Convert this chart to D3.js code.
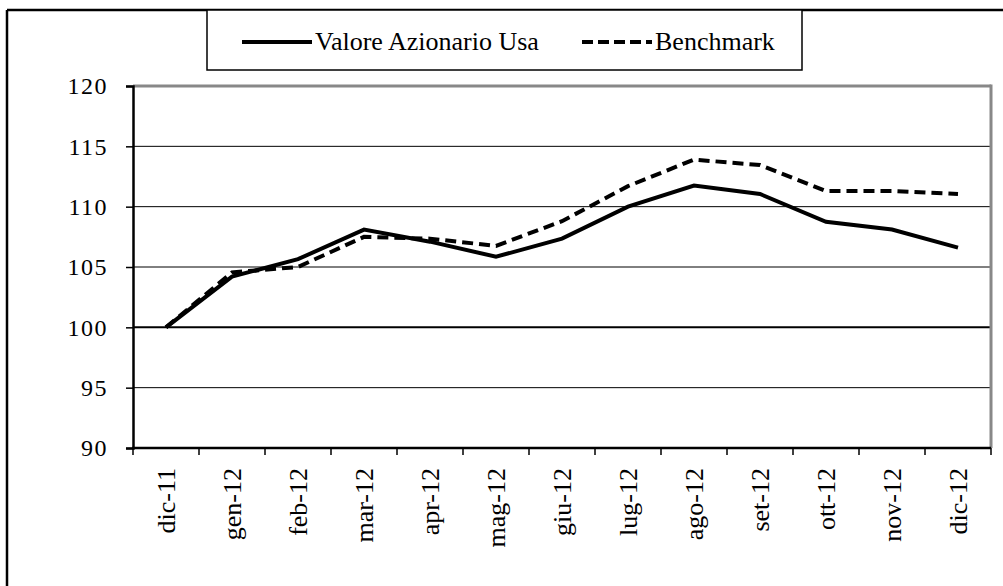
<!DOCTYPE html>
<html>
<head>
<meta charset="utf-8">
<script src="https://cdn.jsdelivr.net/npm/d3@7"></script>
<style>
  body { margin: 0; background: #fff; }
</style>
</head>
<body>
<div id="chart"></div>
<script>
// chart data
var months = ["dic-11", "gen-12", "feb-12", "mar-12", "apr-12", "mag-12", "giu-12",
              "lug-12", "ago-12", "set-12", "ott-12", "nov-12", "dic-12"];
var valoreUsa = [100, 104.2, 105.65, 108.1, 107.1, 105.85, 107.35, 110.0, 111.75, 111.05, 108.75, 108.1, 106.6];
var benchmark = [100, 104.55, 105.0, 107.5, 107.35, 106.75, 108.8, 111.7, 113.9, 113.45, 111.3, 111.3, 111.05];
var yTicks = [90, 95, 100, 105, 110, 115, 120];
var seriesNames = ["Valore Azionario Usa", "Benchmark"];

var width = 1003, height = 586;
var plot = {left: 133, right: 991, top: 86, bottom: 448};
var serif = "Liberation Serif";

var svg = d3.select("#chart")
  .append("svg")
    .attr("width", width)
    .attr("height", height)
    .style("font-family", serif);

// outer frame (top and left edges visible)
svg.append("line").attr("x1", 7).attr("x2", width).attr("y1", 10).attr("y2", 10)
  .attr("stroke", "#000").attr("stroke-width", 2.5);
svg.append("line").attr("x1", 7).attr("x2", 7).attr("y1", 10).attr("y2", height)
  .attr("stroke", "#000").attr("stroke-width", 2.5);

// scales
var x = d3.scaleBand()
  .domain(months)
  .range([plot.left, plot.right]);

var y = d3.scaleLinear()
  .domain([90, 120])
  .range([plot.bottom, plot.top]);

// gridlines
svg.append("g")
  .selectAll("line")
  .data(yTicks.filter(function(d) { return d > 90; }))
  .enter()
  .append("line")
    .attr("x1", plot.left)
    .attr("x2", plot.right)
    .attr("y1", function(d) { return y(d); })
    .attr("y2", function(d) { return y(d); })
    .attr("stroke", function(d) { return d == 120 ? "#888" : "#000"; })
    .attr("stroke-width", function(d) { return d == 120 ? 3 : (d == 100 ? 2 : 1); });

// right border of the plot area
svg.append("line")
  .attr("x1", plot.right).attr("x2", plot.right)
  .attr("y1", plot.top - 1.5).attr("y2", plot.bottom)
  .attr("stroke", "#888").attr("stroke-width", 3);

// Y axis
var yAxis = svg.append("g")
  .attr("transform", "translate(" + plot.left + ",0)")
  .call(d3.axisLeft(y).tickValues(yTicks).tickSize(7).tickPadding(18));
yAxis.attr("font-family", serif);
yAxis.select(".domain").attr("stroke-width", 2.5);
yAxis.selectAll(".tick line").attr("stroke-width", 1.5);
yAxis.selectAll("text")
  .style("font-family", serif)
  .style("font-size", "24px")
  .style("letter-spacing", "1.5px");

// X axis: labels centred in bands, ticks on band edges
var xAxis = svg.append("g")
  .attr("transform", "translate(0," + plot.bottom + ")")
  .call(d3.axisBottom(x).tickSize(0).tickPadding(0));
xAxis.attr("font-family", serif);
xAxis.select(".domain").remove();
xAxis.selectAll("text")
  .attr("transform", "rotate(-90)")
  .attr("x", -20)
  .attr("y", 0)
  .attr("dy", "0.35em")
  .style("text-anchor", "end")
  .style("font-family", serif)
  .style("font-size", "26px");

svg.append("line")
  .attr("x1", plot.left - 1).attr("x2", plot.right)
  .attr("y1", plot.bottom).attr("y2", plot.bottom)
  .attr("stroke", "#000").attr("stroke-width", 2.5);

var edges = months.map(function(d) { return x(d); }).concat([x.range()[1]]);
svg.append("g")
  .selectAll("line")
  .data(edges)
  .enter()
  .append("line")
    .attr("x1", function(d) { return d; })
    .attr("x2", function(d) { return d; })
    .attr("y1", plot.bottom)
    .attr("y2", plot.bottom + 7)
    .attr("stroke", "#000")
    .attr("stroke-width", 1.5);

// lines
var line = d3.line()
  .x(function(d, i) { return x(months[i]) + x.bandwidth() / 2; })
  .y(function(d) { return y(d); });

svg.append("path")
  .datum(benchmark)
  .attr("fill", "none")
  .attr("stroke", "#000")
  .attr("stroke-width", 4)
  .attr("stroke-dasharray", "11,6")
  .attr("d", line);

svg.append("path")
  .datum(valoreUsa)
  .attr("fill", "none")
  .attr("stroke", "#000")
  .attr("stroke-width", 4)
  .attr("d", line);

// legend
var legend = svg.append("g");
legend.append("rect")
  .attr("x", 207).attr("y", 10)
  .attr("width", 595).attr("height", 60)
  .attr("fill", "#fff")
  .attr("stroke", "#000")
  .attr("stroke-width", 1.5);

var legendItems = [
  {name: seriesNames[0], x: 242, dash: null},
  {name: seriesNames[1], x: 582, dash: "11,5"}
];
legendItems.forEach(function(item) {
  legend.append("line")
    .attr("x1", item.x).attr("x2", item.x + 70)
    .attr("y1", 42).attr("y2", 42)
    .attr("stroke", "#000")
    .attr("stroke-width", 4)
    .attr("stroke-dasharray", item.dash);
  legend.append("text")
    .attr("x", item.x + 73)
    .attr("y", 50)
    .style("font-family", serif)
    .style("font-size", "26px")
    .text(item.name);
});
</script>
</body>
</html>
